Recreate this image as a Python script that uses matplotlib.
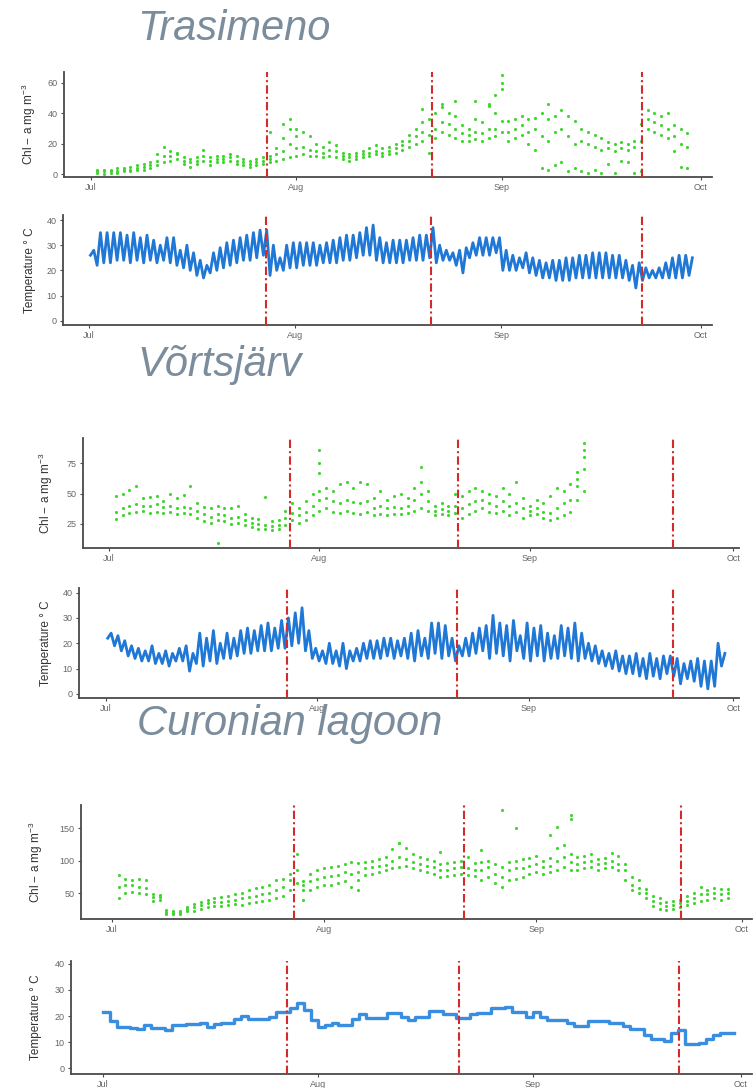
import numpy as np
import matplotlib.pyplot as plt

plt.rcParams['font.family'] = ['Liberation Sans', 'DejaVu Sans']
plt.rcParams['mathtext.default'] = 'regular'

# x axis: days since 1 July
month_ticks = [0, 31, 62, 92]
month_labels = ["Jul", "Aug", "Sep", "Oct"]
event_days = [26.6, 51.4, 83.1]

lakes = ["Trasimeno", "Võrtsjärv", "Curonian lagoon"]

# ---- Trasimeno: chl-a (days 1..90), three readings per day
tras_chl_lo = [1, 0, 1, 1, 2, 2, 3, 3, 4, 6,
               8, 9, 10, 7, 5, 7, 9, 6, 8, 8,
               9, 7, 6, 5, 6, 7, 8, 9, 10, 11,
               12, 13, 12, 12, 11, 12, 11, 10, 9, 10,
               11, 12, 13, 12, 13, 14, 16, 18, 20, 22,
               14, 24, 28, 26, 24, 22, 22, 23, 22, 24,
               25, 28, 22, 24, 26, 20, 16, 4, 3, 6,
               8, 2, 4, 2, 1, 3, 1, 7, 1, 9,
               8, 1, 2, 30, 28, 26, 24, 15, 5, 4]
tras_chl_mid = [2, 2, 2, 2, 3, 3, 4, 5, 6, 9,
                12, 12, 13, 9, 8, 9, 12, 9, 10, 10,
                11, 9, 8, 7, 8, 9, 10, 13, 15, 20,
                17, 18, 16, 15, 14, 16, 15, 12, 11, 12,
                13, 14, 15, 14, 15, 17, 19, 22, 25, 28,
                26, 30, 34, 33, 30, 27, 26, 28, 27, 30,
                30, 35, 28, 30, 32, 28, 30, 25, 22, 28,
                30, 25, 20, 22, 20, 18, 16, 17, 15, 17,
                16, 18, 22, 36, 34, 32, 30, 25, 20, 18]
tras_chl_hi = [3, 3, 3, 4, 4, 5, 6, 7, 8, 13,
               18, 15, 14, 11, 10, 11, 16, 11, 12, 12,
               13, 12, 10, 9, 10, 11, 12, 17, 24, 36,
               30, 28, 25, 20, 18, 21, 19, 14, 13, 14,
               15, 17, 19, 17, 18, 20, 22, 26, 30, 34,
               36, 40, 44, 40, 38, 32, 30, 36, 34, 45,
               40, 60, 35, 36, 38, 36, 37, 40, 36, 38,
               42, 38, 35, 30, 28, 26, 24, 21, 20, 21,
               20, 22, 33, 42, 40, 38, 40, 32, 30, 27]
tras_extra_day = [27, 29, 30, 31, 50, 53, 55, 58, 60, 61, 62, 62, 69]
tras_extra_val = [28, 33, 30, 25, 43, 46, 48, 48, 46, 52, 65, 56, 46]

# ---- Trasimeno: water temperature, daily min / max (days 0..90)
tras_tmin = [26, 22, 23, 23, 24, 24, 23, 24, 23, 24,
             23, 24, 23, 22, 21, 20, 18, 17, 19, 20,
             21, 22, 23, 24, 24, 25, 26, 18, 20, 20,
             21, 21, 22, 22, 22, 23, 23, 23, 24, 24,
             25, 26, 26, 24, 23, 23, 23, 23, 24, 24,
             24, 25, 23, 24, 24, 22, 19, 25, 26, 26,
             26, 27, 20, 20, 20, 21, 19, 18, 17, 17,
             16, 16, 16, 17, 17, 17, 17, 17, 17, 17,
             17, 16, 13, 16, 17, 17, 17, 17, 17, 17, 18]
tras_tmax = [28, 35, 35, 35, 35, 34, 35, 33, 34, 32,
             30, 33, 33, 28, 30, 27, 24, 22, 27, 29,
             31, 32, 33, 34, 35, 36, 36, 30, 25, 30,
             31, 31, 31, 31, 30, 31, 32, 33, 34, 34,
             35, 37, 38, 33, 31, 32, 32, 32, 33, 34,
             34, 37, 30, 28, 27, 28, 29, 31, 33, 33,
             33, 33, 28, 26, 25, 27, 25, 24, 23, 24,
             24, 25, 25, 26, 26, 27, 27, 27, 26, 26,
             24, 22, 23, 21, 20, 21, 23, 25, 26, 26, 25]

# ---- Vortsjarv: chl-a (days 1..70)
vort_chl_lo = [29, 32, 34, 35, 36, 34, 35, 34, 35, 33,
               34, 33, 30, 27, 26, 28, 27, 25, 26, 24,
               22, 21, 21, 20, 21, 24, 28, 26, 28, 32,
               36, 38, 35, 34, 36, 34, 33, 35, 32, 33,
               32, 33, 33, 34, 36, 38, 36, 32, 33, 32,
               34, 30, 33, 36, 38, 35, 34, 36, 32, 35,
               30, 32, 33, 30, 28, 30, 32, 35, 45, 52]
vort_chl_mid = [35, 38, 40, 41, 40, 40, 41, 39, 40, 38,
                39, 38, 36, 33, 31, 33, 32, 30, 31, 28,
                26, 25, 24, 23, 24, 30, 34, 32, 35, 40,
                45, 46, 44, 42, 45, 43, 42, 44, 38, 40,
                38, 39, 38, 40, 45, 50, 44, 36, 37, 36,
                40, 38, 41, 44, 45, 42, 40, 44, 40, 42,
                38, 36, 38, 35, 34, 38, 42, 45, 56, 70]
vort_chl_hi = [48, 50, 53, 56, 46, 47, 48, 44, 50, 46,
               49, 56, 42, 39, 38, 40, 38, 38, 40, 33,
               30, 29, 47, 27, 28, 36, 42, 38, 44, 50,
               52, 55, 52, 58, 60, 55, 60, 58, 46, 52,
               45, 48, 50, 46, 55, 60, 52, 40, 42, 40,
               50, 48, 52, 55, 52, 50, 48, 55, 50, 60,
               46, 40, 45, 42, 48, 55, 52, 58, 68, 92]
vort_extra_day = [16, 31, 31, 31, 46, 69, 70, 70]
vort_extra_val = [9, 86, 75, 67, 72, 62, 80, 86]

# ---- Vortsjarv: water temperature, daily min / max (days 0..90)
vort_tmin = [22, 19, 17, 15, 14, 13, 13, 12, 12, 11,
             13, 13, 9, 12, 11, 13, 12, 14, 14, 15,
             16, 16, 17, 17, 17, 18, 18, 19, 20, 17,
             14, 13, 12, 12, 11, 10, 13, 13, 14, 14,
             14, 15, 14, 15, 14, 13, 15, 14, 16, 14,
             15, 13, 15, 15, 16, 17, 14, 16, 15, 13,
             17, 14, 13, 15, 13, 14, 14, 15, 14, 13,
             14, 13, 12, 11, 10, 9, 8, 8, 7, 6,
             7, 6, 8, 7, 4, 6, 5, 3, 2, 3, 11]
vort_tmax = [24, 23, 21, 19, 18, 17, 19, 16, 17, 16,
             18, 19, 16, 24, 22, 25, 20, 24, 22, 25,
             26, 25, 27, 28, 26, 29, 30, 32, 34, 25,
             18, 17, 20, 17, 20, 17, 18, 20, 21, 21,
             22, 22, 21, 22, 24, 25, 22, 28, 28, 27,
             22, 19, 22, 24, 26, 27, 31, 28, 27, 29,
             23, 28, 26, 27, 24, 23, 27, 26, 28, 24,
             20, 19, 17, 16, 17, 15, 15, 16, 14, 16,
             14, 15, 15, 14, 12, 13, 14, 13, 13, 20, 16]

# ---- Curonian lagoon: chl-a (days 1..90)
cur_chl_lo = [42, 50, 52, 50, 48, 38, 40, 18, 17, 18,
              22, 23, 26, 28, 30, 30, 32, 33, 32, 35,
              36, 38, 40, 42, 45, 55, 65, 40, 55, 60,
              62, 62, 65, 68, 60, 70, 78, 80, 82, 85,
              88, 90, 92, 88, 85, 82, 80, 75, 76, 78,
              80, 78, 76, 70, 75, 65, 60, 70, 72, 75,
              80, 82, 80, 82, 85, 90, 86, 85, 88, 90,
              85, 88, 90, 85, 70, 55, 50, 42, 30, 25,
              24, 26, 28, 32, 35, 38, 40, 42, 40, 42]
cur_chl_mid = [60, 62, 62, 60, 58, 44, 44, 21, 19, 21,
               26, 28, 31, 34, 36, 37, 38, 40, 42, 44,
               46, 48, 50, 55, 60, 70, 85, 55, 68, 72,
               75, 76, 78, 82, 80, 82, 88, 90, 92, 94,
               100, 105, 102, 98, 95, 92, 90, 85, 86, 88,
               90, 88, 86, 85, 90, 80, 75, 85, 88, 88,
               92, 95, 90, 92, 100, 105, 98, 95, 98, 100,
               95, 96, 100, 95, 85, 62, 58, 50, 38, 34,
               30, 32, 34, 38, 42, 48, 48, 50, 48, 50]
cur_chl_hi = [78, 72, 70, 72, 70, 48, 47, 24, 22, 23,
              29, 33, 36, 40, 42, 44, 45, 48, 50, 55,
              58, 60, 62, 70, 72, 80, 110, 68, 80, 85,
              88, 90, 92, 95, 98, 96, 98, 100, 102, 105,
              118, 128, 120, 110, 105, 102, 100, 95, 96, 98,
              100, 105, 96, 98, 100, 95, 90, 98, 100, 102,
              104, 108, 100, 104, 120, 125, 110, 105, 108, 110,
              102, 104, 112, 108, 95, 75, 70, 56, 45, 42,
              36, 38, 40, 46, 50, 60, 55, 58, 56, 56]
cur_extra_day = [28, 36, 42, 48, 54, 57, 59, 64, 65, 67, 67]
cur_extra_val = [62, 55, 128, 114, 117, 178, 150, 140, 152, 165, 170]

# ---- Curonian lagoon: daily water temperature (days 0..90)
cur_temp = [21.5, 18, 16, 16, 15.5, 15, 16.5, 15.5, 15.5, 14.5,
            16.5, 16.5, 17, 17, 17.5, 16, 17, 17.2, 17.2, 19,
            20, 18.8, 18.8, 18.8, 19.8, 21.6, 21.6, 22.9, 24.9, 22.4,
            18.5, 15.7, 16.6, 17.5, 16.6, 16.6, 18.8, 20.8, 19.4, 19.4,
            19.4, 21, 21, 19.8, 18.5, 19.8, 19.8, 22.1, 22.1, 20.8,
            20.8, 19.3, 19.3, 20.8, 21.3, 21.3, 23, 23, 23.5, 21.7,
            21.7, 19.8, 21.7, 19.8, 18.5, 18.5, 18.5, 17.5, 16.2, 16.2,
            18.3, 18.3, 18.3, 17.2, 17.2, 16.2, 14.9, 14.9, 12.7, 11.4,
            11.4, 10.5, 13.4, 14.6, 9.2, 9.2, 9.5, 11.4, 12.7, 13.6, 13.6]


W, H = 754, 1088
fig = plt.figure(figsize=(W / 100, H / 100), dpi=100)

GREEN = "#3cd62c"
BLUE = "#1f77d6"
RED = "#d42a2a"
TITLE = "#7b8d9c"


def panel(left, top, right, bottom, jul_px, oct_px, ylim, yticks, ylabel, label_px):
    # axes placed in pixel coordinates, x scale set from the Jul / Oct tick positions
    ax = fig.add_axes([left / W, 1 - bottom / H, (right - left) / W, (bottom - top) / H])
    per_day = (oct_px - jul_px) / 92
    ax.set_xlim((left - jul_px) / per_day, (right - jul_px) / per_day)
    ax.set_ylim(*ylim)
    ax.set_xticks(month_ticks)
    ax.set_xticklabels(month_labels)
    ax.set_yticks(yticks)
    for side in ["top", "right"]:
        ax.spines[side].set_visible(False)
    for side in ["left", "bottom"]:
        ax.spines[side].set_color("#4a4a4a")
        ax.spines[side].set_linewidth(1.3)
    ax.tick_params(length=2.5, width=0.8, color="#4a4a4a",
                   labelsize=6.5, labelcolor="#666666", pad=2)
    ax.set_ylabel(ylabel, fontsize=8.5, color="#333333")
    ax.yaxis.set_label_coords((label_px - left) / (right - left), 0.5)
    for d in event_days:
        ax.axvline(d, color=RED, lw=1.5, ls=(0, (4, 1.5, 1, 1.5)), zorder=3)
    return ax


def chl_points(ax, lo, mid, hi, extra_day, extra_val):
    days = np.arange(1, len(lo) + 1)
    for vals in [lo, mid, hi]:
        ax.scatter(days, vals, s=5, color=GREEN, linewidths=0, zorder=2)
    ax.scatter(extra_day, extra_val, s=5, color=GREEN, linewidths=0, zorder=2)


def diurnal_line(ax, tmin, tmax):
    days = np.arange(len(tmin))
    x = np.column_stack([days + 0.25, days + 0.75]).ravel()
    y = np.column_stack([tmin, tmax]).ravel()
    ax.plot(x, y, color=BLUE, lw=2.0, zorder=2)


chl_label = "Chl − a mg m$^{-3}$"
temp_label = "Temperature ° C"
temp_ticks = [0, 10, 20, 30, 40]

# Trasimeno
ax = panel(64, 72, 712, 177, 90.7, 700.7, (-1.8, 67.1), [0, 20, 40, 60], chl_label, 38)
chl_points(ax, tras_chl_lo, tras_chl_mid, tras_chl_hi, tras_extra_day, tras_extra_val)
ax = panel(63, 215, 712, 325, 88.8, 700.7, (-1.7, 42.0), temp_ticks, temp_label, 36)
diurnal_line(ax, tras_tmin, tras_tmax)

# Vortsjarv
ax = panel(83, 438, 739, 548, 109, 733.3, (5, 96), [25, 50, 75], chl_label, 55)
chl_points(ax, vort_chl_lo, vort_chl_mid, vort_chl_hi, vort_extra_day, vort_extra_val)
ax = panel(79, 588, 739, 698, 106, 733.4, (-1.6, 41.8), temp_ticks, temp_label, 52)
diurnal_line(ax, vort_tmin, vort_tmax)

# Curonian lagoon
ax = panel(81, 805, 752, 919, 111.7, 741.7, (10, 186), [50, 100, 150], chl_label, 45)
chl_points(ax, cur_chl_lo, cur_chl_mid, cur_chl_hi, cur_extra_day, cur_extra_val)
ax = panel(71, 961, 752, 1074, 102.7, 740.7, (-2.2, 41.1), temp_ticks, temp_label, 42)
ax.step(np.arange(len(cur_temp) + 1), cur_temp + [cur_temp[-1]],
        where="post", color="#3a8ee0", lw=2.4, zorder=2)

# lake names (the last one sits over the Aug tick label, as in the original)
for name, base_px in zip(lakes, [40, 376, 735]):
    fig.text(137 / W, 1 - base_px / H, name, fontsize=30, style="italic",
             color=TITLE, va="baseline", ha="left")

fig.savefig("out.png", dpi=100, facecolor="white")
